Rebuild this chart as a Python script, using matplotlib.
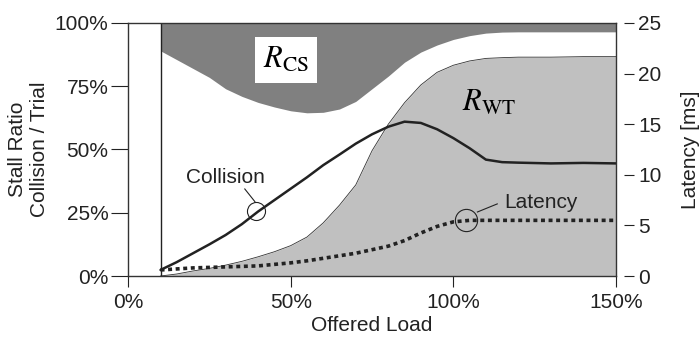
import numpy as np
import matplotlib
matplotlib.use("Agg")
import matplotlib.pyplot as plt

plt.rcParams['font.family'] = ['Liberation Sans', 'DejaVu Sans']
plt.rcParams['mathtext.fontset'] = 'stix'

# offered load [%]
load = [10, 15, 20, 25, 30, 35, 40, 45, 50, 55, 60, 65, 70, 75, 80, 85, 90,
        95, 100, 105, 110, 115, 120, 130, 140, 150]
# lower edge of R_CS region [%]
r_cs = [89, 85.5, 82, 78.5, 74, 71, 68.6, 66.8, 65.3, 64.5, 64.7, 66, 69, 74,
        79, 84.5, 88.5, 91.3, 93.5, 95, 96, 96.4, 96.5, 96.5, 96.5, 96.5]
# upper edge of R_WT region [%]
r_wt = [0, 0.8, 2, 3, 4.3, 5.8, 7.6, 9.6, 12, 15.4, 21, 28, 36, 49.5, 60,
        68.5, 75.5, 80.5, 83.3, 85, 86, 86.3, 86.5, 86.5, 86.7, 86.7]
# collision / trial [%]
collision = [2.4, 5.5, 9, 12.5, 16.2, 20.5, 25.5, 30, 34.5, 39, 43.8, 48,
             52.3, 56, 59, 61, 60.5, 58, 54.5, 50.5, 46, 45, 44.8, 44.5, 44.7, 44.5]
# latency [ms]
latency = [0.6, 0.7, 0.8, 0.85, 0.9, 0.95, 1.0, 1.15, 1.3, 1.5, 1.75, 2.0,
           2.25, 2.6, 2.95, 3.5, 4.25, 4.9, 5.35, 5.5, 5.5, 5.5, 5.5, 5.5, 5.5, 5.5]

pct_ticks = [0, 25, 50, 75, 100]
load_ticks = [0, 50, 100, 150]
lat_ticks = [0, 5, 10, 15, 20, 25]

txt = '#222222'
fig = plt.figure(figsize=(6.99, 3.40), dpi=100)
ax = fig.add_axes([0.1831, 0.1882, 0.6982, 0.7442])

ax.fill_between(load, r_cs, 100, color='#808080', lw=0)
ax.fill_between(load, 0, r_wt, color='#c0c0c0', lw=0)
ax.plot(load, r_wt, color='#333333', lw=0.6)
ax.vlines(load[0], 0, 100, color='#222222', lw=1)
ax.plot(load, collision, color='#222222', lw=1.8, solid_capstyle='round')

ax.set_xlim(0, 150)
ax.set_ylim(0, 100)
ax.set_xticks(load_ticks)
ax.set_xticklabels([f'{t}%' for t in load_ticks])
ax.set_yticks(pct_ticks)
ax.set_yticklabels([f'{t}%' for t in pct_ticks])
ax.tick_params(labelsize=15, colors=txt, direction='out', length=8, width=0.8)
ax.tick_params(axis='x', pad=4)
ax.tick_params(axis='y', length=12, pad=2)
for s in ax.spines.values():
    s.set_color('#333333')
    s.set_linewidth(1)

ax2 = ax.twinx()
ax2.plot(load, latency, color='#222222', lw=2.6, linestyle=(0, (1.1, 1.0)))
ax2.set_ylim(0, 25)
ax2.set_yticks(lat_ticks)
ax2.spines['right'].set_position(('outward', 6))
for s in ax2.spines.values():
    s.set_visible(False)
ax2.tick_params(labelsize=15, colors=txt, direction='out', length=7, width=0.8, pad=3)

ax.set_xlabel('Offered Load', fontsize=15, color=txt, labelpad=3)
ax.set_ylabel('Stall Ratio\nCollision / Trial', fontsize=15, color=txt,
              linespacing=1.2, labelpad=4)
ax2.set_ylabel('Latency [ms]', fontsize=15, color=txt, labelpad=14)

# region labels
ax.text(48.5, 85.4, r'$R_{\mathrm{CS}}$', fontsize=22, ha='center', va='center',
        color='black', bbox=dict(facecolor='white', edgecolor='none', pad=6))
ax.text(111, 68.4, r'$R_{\mathrm{WT}}$', fontsize=22, ha='center', va='center',
        color='black')

# annotations
ax.plot([39.3], [25.7], marker='o', ms=13, mfc='none', mec='#222222', mew=0.8)
ax.plot([35.9, 39], [34.4, 29.4], color='#222222', lw=0.8)
ax.text(30, 39, 'Collision', fontsize=15, color=txt, ha='center', va='center')

ax.plot([104], [22], marker='o', ms=16, mfc='none', mec='#222222', mew=0.8)
ax.plot([107.4, 113.5], [25.3, 28.5], color='#222222', lw=0.8)
ax.text(127, 29.2, 'Latency', fontsize=15, color=txt, ha='center', va='center')

fig.savefig('out.png', dpi=100)
